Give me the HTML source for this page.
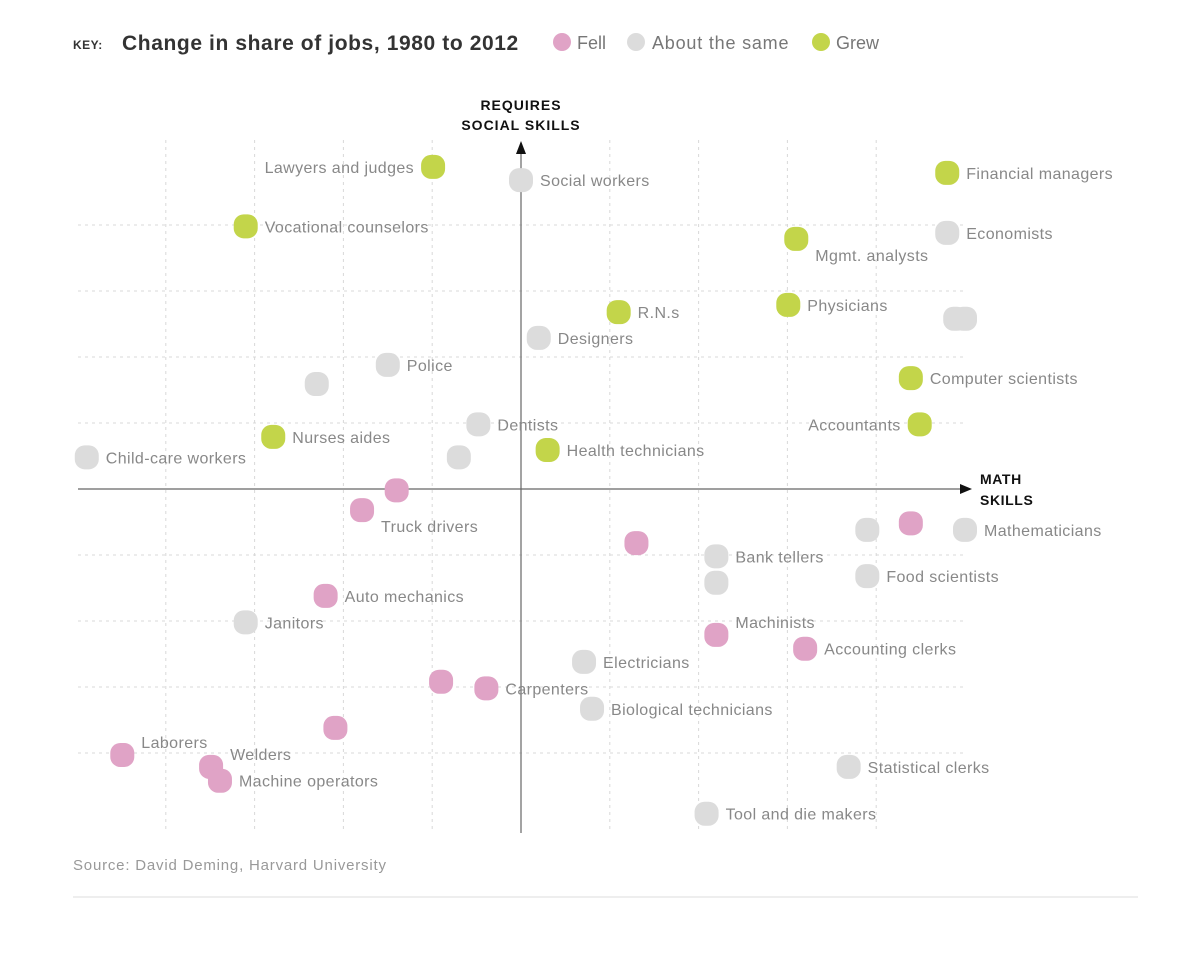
<!DOCTYPE html>
<html><head><meta charset="utf-8"><style>
html,body{margin:0;padding:0;background:#fff;}
svg{display:block;font-family:"Liberation Sans",sans-serif;}
</style></head><body>
<svg id="chart" width="1200" height="968" viewBox="0 0 1200 968">
  <g>
    <text x="73" y="49" font-size="12" font-weight="bold" fill="#333" letter-spacing="0.5">KEY:</text>
    <text x="122" y="50" font-size="21" font-weight="bold" fill="#333" letter-spacing="0.6">Change in share of jobs, 1980 to 2012</text>
    <circle cx="562" cy="42" r="9" fill="#e0a3c6"/>
    <text x="577" y="49" font-size="18" fill="#777">Fell</text>
    <circle cx="636" cy="42" r="9" fill="#dcdcdc"/>
    <text x="652" y="49" font-size="18" fill="#777" letter-spacing="0.8">About the same</text>
    <circle cx="821" cy="42" r="9" fill="#c3d54a"/>
    <text x="836" y="49" font-size="18" fill="#777">Grew</text>
  </g>
  <g id="grid"></g>
  <g id="axes"></g>
  <g id="points"></g>
  <text x="521" y="110" font-size="14" font-weight="bold" fill="#111" letter-spacing="1" text-anchor="middle">REQUIRES</text>
  <text x="521" y="130" font-size="14" font-weight="bold" fill="#111" letter-spacing="1" text-anchor="middle">SOCIAL SKILLS</text>
  <text x="980" y="484" font-size="14" font-weight="bold" fill="#111" letter-spacing="0.6">MATH</text>
  <text x="980" y="505" font-size="14" font-weight="bold" fill="#111" letter-spacing="0.6">SKILLS</text>
  <text x="73" y="870" font-size="15" fill="#999" letter-spacing="0.8">Source: David Deming, Harvard University</text>
  <line x1="73" y1="897" x2="1138" y2="897" stroke="#ddd" stroke-width="1"/>
</svg>
<script>
const names = ["Lawyers and judges","Social workers","Financial managers","Vocational counselors","Economists","Mgmt. analysts","Physicians","R.N.s","","","Designers","Police","","Computer scientists","Dentists","Accountants","Nurses aides","Child-care workers","","Health technicians","","Truck drivers","","","Mathematicians","","Bank tellers","","Food scientists","Auto mechanics","Janitors","Machinists","Accounting clerks","Electricians","","Carpenters","Biological technicians","","Laborers","Welders","Machine operators","Statistical clerks","Tool and die makers"];
const mathSkill = [-0.99,0,4.8,-3.1,4.8,3.1,3.01,1.1,4.89,5.0,0.2,-1.5,-2.3,4.39,-0.48,4.49,-2.79,-4.89,-0.7,0.3,-1.4,-1.79,3.9,4.39,5.0,1.3,2.2,2.2,3.9,-2.2,-3.1,2.2,3.2,0.71,-0.9,-0.39,0.8,-2.09,-4.49,-3.49,-3.39,3.69,2.09];
const socialSkill = [4.88,4.68,4.79,3.98,3.88,3.79,2.79,2.68,2.58,2.58,2.29,1.88,1.59,1.68,0.98,0.98,0.79,0.48,0.48,0.59,-0.02,-0.32,-0.62,-0.52,-0.62,-0.82,-1.02,-1.42,-1.32,-1.62,-2.02,-2.21,-2.42,-2.62,-2.92,-3.02,-3.33,-3.62,-4.03,-4.21,-4.42,-4.21,-4.92];
const change = ["grew","same","grew","grew","same","grew","grew","grew","same","same","same","same","same","grew","same","grew","grew","same","same","grew","fell","fell","same","fell","same","fell","same","same","same","fell","same","fell","fell","same","fell","fell","same","fell","fell","fell","fell","same","same"];
const labelSide = ["l","r","r","r","r","br","r","r","r","r","r","r","r","r","r","l","r","r","r","r","r","br","r","r","r","r","r","r","r","r","r","tr","r","r","r","r","r","r","tr","tr","r","r","r"];
const gridX = [-4,-3,-2,-1,1,2,3,4];
const gridY = [4,3,2,1,-1,-2,-3,-4];

const NS="http://www.w3.org/2000/svg";
const X0=521,Y0=489,UX=88.8,UY=66;
function sx(v){return X0+v*UX;}
function sy(v){return Y0-v*UY;}
const colors={fell:"#e0a3c6",same:"#dcdcdc",grew:"#c3d54a"};
function mk(tag,attrs,parent){const e=document.createElementNS(NS,tag);for(const k in attrs)e.setAttribute(k,attrs[k]);parent.appendChild(e);return e;}

const grid=document.getElementById('grid');
gridX.forEach(v=>{
  const l=mk('line',{x1:sx(v),x2:sx(v),y1:140,y2:833,stroke:"#d8d8d8","stroke-dasharray":"3,4"},grid);
  
  
});
gridY.forEach(v=>{
  const l=mk('line',{x1:78,x2:966,y1:sy(v),y2:sy(v),stroke:"#d8d8d8","stroke-dasharray":"3,4"},grid);
  
  
});
const axes=document.getElementById('axes');
let a=mk('line',{x1:78,x2:962,y1:Y0,y2:Y0,stroke:"#666","stroke-width":1.2},axes);


a=mk('polygon',{points:`972,${Y0} 960,${Y0-5} 960,${Y0+5}`,fill:"#111"},axes);


a=mk('line',{x1:X0,x2:X0,y1:833,y2:150,stroke:"#666","stroke-width":1.2},axes);


a=mk('polygon',{points:`${X0},141 ${X0-5},154 ${X0+5},154`,fill:"#111"},axes);



const pts=document.getElementById('points');
names.forEach((n,i)=>{
  const cx=sx(mathSkill[i]),cy=sy(socialSkill[i]);
  const r=mk('rect',{x:cx-12,y:cy-12,width:24,height:24,rx:10,ry:10,fill:colors[change[i]]},pts);
  
  
  if(n){
    const s=labelSide[i];
    let tx=cx+19,ty=cy+6,anchor='start';
    if(s==='l'){tx=cx-19;anchor='end';}
    if(s==='br'){ty=cy+22;}
    if(s==='tr'){ty=cy-7;}
    const t=mk('text',{x:tx,y:ty,'font-size':16,'letter-spacing':0.4,fill:"#888",'text-anchor':anchor},pts);
    t.textContent=n;
    
    
  }
});
</script>
</body></html>
